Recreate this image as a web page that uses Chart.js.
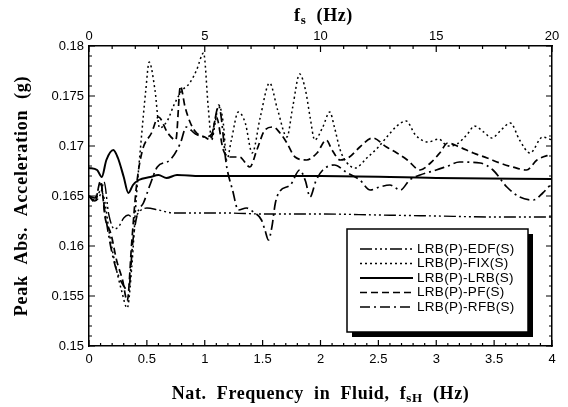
<!DOCTYPE html>
<html>
<head>
<meta charset="utf-8">
<script src="https://cdn.jsdelivr.net/npm/chart.js@4"></script>
<style>
  html, body { margin: 0; padding: 0; background: #fff; }
  #wrap { width: 568px; height: 407px; }
</style>
</head>
<body>
<div id="wrap"><canvas id="chart" width="568" height="407"></canvas></div>
<script>
// 系列データ (x: fsH Hz, y: g)
const seriesNames = ['LRB(P)-EDF(S)', 'LRB(P)-FIX(S)', 'LRB(P)-LRB(S)', 'LRB(P)-PF(S)', 'LRB(P)-RFB(S)'];

const edfX = [0, 0.05, 0.1, 0.13, 0.17, 0.22, 0.26, 0.3, 0.34, 0.38, 0.45, 0.5, 0.6, 0.73, 0.9, 1.2, 1.5, 2, 2.5, 3, 3.5, 4];
const edfY = [0.165, 0.1645, 0.1652, 0.1664, 0.1632, 0.1617, 0.162, 0.1628, 0.1631, 0.1628, 0.1636, 0.1638, 0.1636, 0.1633, 0.1633, 0.1633, 0.1632, 0.1632, 0.1631, 0.163, 0.1629, 0.1629];

const fixX = [0, 0.05, 0.1, 0.13, 0.18, 0.23, 0.28, 0.33, 0.37, 0.41, 0.45, 0.49, 0.52, 0.57, 0.61, 0.68, 0.73, 0.8, 0.87, 0.93, 0.99, 1.03, 1.06, 1.09, 1.12, 1.16, 1.19, 1.23, 1.29, 1.35, 1.41, 1.48, 1.56, 1.63, 1.71, 1.76, 1.82, 1.87, 1.91, 1.95, 2.02, 2.08, 2.12, 2.17, 2.23, 2.3, 2.4, 2.5, 2.58, 2.66, 2.74, 2.82, 2.93, 3.02, 3.1, 3.18, 3.27, 3.33, 3.41, 3.48, 3.56, 3.64, 3.72, 3.81, 3.92, 4];
const fixY = [0.165, 0.1646, 0.1655, 0.1648, 0.161, 0.158, 0.1556, 0.1538, 0.158, 0.165, 0.1705, 0.1755, 0.1784, 0.1756, 0.1718, 0.1726, 0.174, 0.1755, 0.1763, 0.1776, 0.1793, 0.1739, 0.1706, 0.1723, 0.1741, 0.1723, 0.1686, 0.1706, 0.1734, 0.1723, 0.1693, 0.1729, 0.1763, 0.1736, 0.1709, 0.1739, 0.1772, 0.1756, 0.1729, 0.1706, 0.1719, 0.1734, 0.1719, 0.1696, 0.1683, 0.1678, 0.1688, 0.1699, 0.171, 0.172, 0.1725, 0.1711, 0.1704, 0.1707, 0.17, 0.1702, 0.1712, 0.172, 0.1714, 0.1708, 0.1716, 0.1723, 0.1706, 0.1693, 0.1709, 0.1706];

const lrbX = [0, 0.07, 0.11, 0.15, 0.21, 0.25, 0.3, 0.34, 0.38, 0.43, 0.53, 0.6, 0.67, 0.76, 0.96, 1.5, 2, 3, 4];
const lrbY = [0.1678, 0.1676, 0.1669, 0.1686, 0.1696, 0.1688, 0.1669, 0.1653, 0.1661, 0.1666, 0.1669, 0.1671, 0.1668, 0.1671, 0.167, 0.167, 0.167, 0.1668, 0.1667];

const pfX = [0, 0.05, 0.1, 0.14, 0.19, 0.24, 0.29, 0.33, 0.37, 0.41, 0.46, 0.54, 0.6, 0.68, 0.75, 0.79, 0.83, 0.88, 0.93, 1.0, 1.05, 1.1, 1.16, 1.22, 1.3, 1.39, 1.45, 1.52, 1.59, 1.65, 1.71, 1.78, 1.88, 1.97, 2.05, 2.1, 2.17, 2.25, 2.34, 2.45, 2.57, 2.66, 2.75, 2.86, 2.95, 3.03, 3.1, 3.2, 3.32, 3.44, 3.55, 3.66, 3.78, 3.87, 4];
const pfY = [0.165, 0.1644, 0.1665, 0.1628, 0.1612, 0.1585, 0.1566, 0.1545, 0.1605, 0.166, 0.1695, 0.1713, 0.1729, 0.1713, 0.1706, 0.176, 0.1739, 0.1722, 0.1713, 0.1709, 0.1706, 0.1729, 0.1696, 0.1689, 0.1689, 0.1679, 0.1696, 0.1716, 0.1719, 0.1713, 0.1703, 0.1689, 0.1686, 0.1693, 0.1706, 0.1696, 0.1686, 0.1689, 0.1699, 0.1708, 0.1699, 0.1693, 0.1686, 0.1676, 0.1683, 0.1693, 0.1703, 0.1699, 0.1693, 0.1688, 0.1683, 0.1679, 0.1676, 0.1686, 0.1692];

const rfbX = [0, 0.05, 0.1, 0.14, 0.19, 0.24, 0.3, 0.34, 0.38, 0.42, 0.47, 0.53, 0.59, 0.7, 0.79, 0.84, 0.92, 1.0, 1.06, 1.12, 1.19, 1.24, 1.29, 1.36, 1.42, 1.49, 1.52, 1.55, 1.58, 1.61, 1.65, 1.74, 1.82, 1.87, 1.91, 1.96, 2.02, 2.12, 2.22, 2.34, 2.43, 2.51, 2.6, 2.69, 2.77, 2.86, 3.0, 3.1, 3.2, 3.38, 3.49, 3.61, 3.72, 3.84, 3.92, 4];
const rfbY = [0.165, 0.1648, 0.1662, 0.1632, 0.1598, 0.1575, 0.156, 0.1555, 0.1606, 0.1633, 0.1643, 0.1662, 0.1679, 0.1686, 0.1703, 0.1719, 0.1712, 0.1709, 0.1712, 0.174, 0.1679, 0.1656, 0.1636, 0.1638, 0.1634, 0.1626, 0.1616, 0.1606, 0.1619, 0.1643, 0.1655, 0.1661, 0.1676, 0.1665, 0.1649, 0.1665, 0.1676, 0.1681, 0.1674, 0.1666, 0.1656, 0.1659, 0.1661, 0.1656, 0.1666, 0.1671, 0.1676, 0.168, 0.1684, 0.1683, 0.1676, 0.1659, 0.1649, 0.1646, 0.1653, 0.1663];

// 目盛り
const xTicks = [0, 0.5, 1, 1.5, 2, 2.5, 3, 3.5, 4];
const topTicks = [0, 5, 10, 15, 20];
const yTicks = [0.15, 0.155, 0.16, 0.165, 0.17, 0.175, 0.18];

const ink = '#000';
const tickFont = { family: 'Liberation Sans', size: 13 };

function pts(xs, ys) {
    return xs.map((x, i) => ({ x: x, y: ys[i] }));
}

function lineSet(label, xs, ys, dash, width) {
    return {
        label: label,
        data: pts(xs, ys),
        borderColor: ink,
        borderWidth: width,
        borderDash: dash,
        pointRadius: 0,
        fill: false,
        cubicInterpolationMode: 'monotone'
    };
}

const datasets = [
    lineSet(seriesNames[0], edfX, edfY, [12, 3, 2, 3, 2, 3, 2, 3], 1.4),
    lineSet(seriesNames[1], fixX, fixY, [2, 3], 1.5),
    lineSet(seriesNames[2], lrbX, lrbY, [], 2),
    lineSet(seriesNames[3], pfX, pfY, [7, 4], 1.7),
    lineSet(seriesNames[4], rfbX, rfbY, [10, 4, 2, 4], 1.7)
];

// 内向き目盛りと凡例・軸タイトル
const decorPlugin = {
    id: 'decor',
    afterDraw(chart) {
        const c = chart.ctx;
        const a = chart.chartArea;
        const sx = chart.scales.x, sy = chart.scales.y, st = chart.scales.x2;
        c.save();
        c.strokeStyle = ink;
        c.lineWidth = 1.2;
        c.setLineDash([]);
        c.beginPath();
        for (let v = 0; v <= 40; v++) {
            const px = sx.getPixelForValue(v / 10);
            const len = v % 5 === 0 ? 6 : 3;
            c.moveTo(px, a.bottom); c.lineTo(px, a.bottom - len);
        }
        for (let v = 0; v <= 20; v++) {
            const px = st.getPixelForValue(v);
            const len = v % 5 === 0 ? 6 : 3;
            c.moveTo(px, a.top); c.lineTo(px, a.top + len);
        }
        for (let v = 150; v <= 180; v++) {
            const py = sy.getPixelForValue(v / 1000);
            const len = v % 5 === 0 ? 6 : 3;
            c.moveTo(a.left, py); c.lineTo(a.left + len, py);
            c.moveTo(a.right, py); c.lineTo(a.right - len, py);
        }
        c.stroke();

        // 凡例
        const bx = 347, by = 229, bw = 181, bh = 103;
        c.fillStyle = ink;
        c.fillRect(bx + 5, by + 5, bw, bh);
        c.fillStyle = '#fff';
        c.fillRect(bx, by, bw, bh);
        c.lineWidth = 1.5;
        c.strokeRect(bx, by, bw, bh);
        c.font = '13.5px "Liberation Sans"';
        c.letterSpacing = '0.3px';
        c.textBaseline = 'middle';
        c.textAlign = 'left';
        chart.data.datasets.forEach((ds, i) => {
            const ry = 249 + i * 14.5;
            c.beginPath();
            c.lineWidth = ds.borderWidth;
            c.setLineDash(ds.borderDash);
            c.moveTo(360, ry); c.lineTo(413, ry);
            c.stroke();
            c.setLineDash([]);
            c.fillStyle = ink;
            c.fillText(ds.label, 417, ry);
        });
        c.letterSpacing = '0px';

        // 軸タイトル
        c.fillStyle = ink;
        c.textBaseline = 'alphabetic';
        const mid = (a.left + a.right) / 2;
        drawSub(c, [['Nat.  Frequency  in  Fluid,  f', 0], ['sH', 1], ['  (Hz)', 0]], mid, 399, 18, '0.6px');
        drawSub(c, [['f', 0], ['s', 1], ['  (Hz)', 0]], mid + 3, 21, 18, '0.6px');
        c.translate(27, (a.top + a.bottom) / 2);
        c.rotate(-Math.PI / 2);
        c.font = 'bold 18px "Liberation Serif"';
        c.letterSpacing = '0.8px';
        c.textAlign = 'center';
        c.fillText('Peak  Abs.  Acceleration  (g)', 0, 0);
        c.restore();
    }
};

function drawSub(c, parts, cx, y, size, spacing) {
    const big = 'bold ' + size + 'px "Liberation Serif"';
    const small = 'bold ' + Math.round(size * 0.7) + 'px "Liberation Serif"';
    c.letterSpacing = spacing;
    let w = 0;
    parts.forEach(p => { c.font = p[1] ? small : big; w += c.measureText(p[0]).width; });
    let x = cx - w / 2;
    c.textAlign = 'left';
    parts.forEach(p => {
        c.font = p[1] ? small : big;
        c.fillText(p[0], x, p[1] ? y + 3 : y);
        x += c.measureText(p[0]).width;
    });
    c.letterSpacing = '0px';
}

const ctx = document.getElementById('chart').getContext('2d');
new Chart(ctx, {
    type: 'line',
    data: { datasets: datasets },
    options: {
        responsive: false,
        animation: false,
        layout: { padding: 0 },
        plugins: { legend: { display: false }, tooltip: { enabled: false } },
        scales: {
            x: {
                type: 'linear', position: 'bottom', min: 0, max: 4,
                afterBuildTicks: s => { s.ticks = xTicks.map(v => ({ value: v })); },
                afterFit: s => { s.height = 61; },
                ticks: { color: ink, font: tickFont, padding: 6, maxRotation: 0, callback: v => String(v) },
                grid: { display: false, drawTicks: false },
                border: { display: true, color: ink, width: 1.5 }
            },
            x2: {
                type: 'linear', position: 'top', min: 0, max: 20,
                afterBuildTicks: s => { s.ticks = topTicks.map(v => ({ value: v })); },
                afterFit: s => { s.height = 46; },
                ticks: { color: ink, font: tickFont, padding: 2, maxRotation: 0, callback: v => String(v) },
                grid: { display: false, drawTicks: false },
                border: { display: true, color: ink, width: 1.5 }
            },
            y: {
                type: 'linear', position: 'left', min: 0.15, max: 0.18,
                afterBuildTicks: s => { s.ticks = yTicks.map(v => ({ value: v })); },
                afterFit: s => { s.width = 89; },
                ticks: { color: ink, font: tickFont, padding: 5, callback: v => String(+v.toFixed(3)) },
                grid: { display: false, drawTicks: false },
                border: { display: true, color: ink, width: 1.5 }
            },
            y2: {
                type: 'linear', position: 'right', min: 0.15, max: 0.18,
                afterFit: s => { s.width = 16; },
                ticks: { display: false },
                grid: { display: false, drawTicks: false },
                border: { display: true, color: ink, width: 1.5 }
            }
        }
    },
    plugins: [decorPlugin]
});
</script>
</body>
</html>
